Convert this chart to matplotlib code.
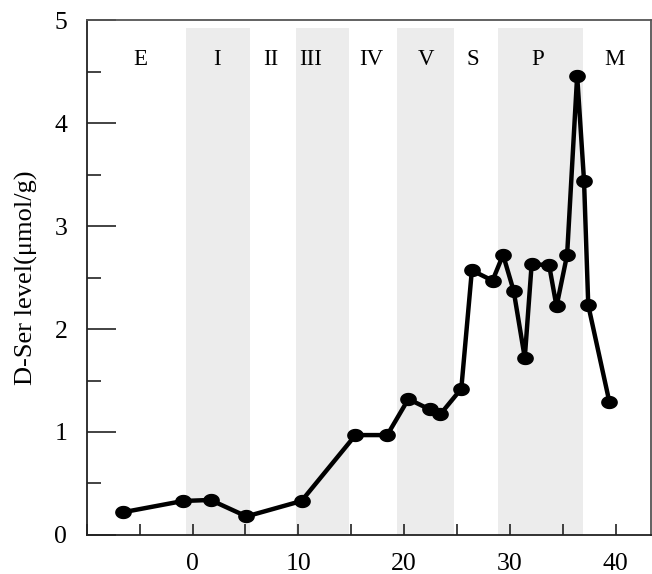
import numpy as np
import matplotlib
matplotlib.use("Agg")
import matplotlib.pyplot as plt
from matplotlib.path import Path
from matplotlib.ticker import MultipleLocator

# ---- data ----
days = [-6.6, -0.9, 1.7, 5.1, 10.3, 15.4, 18.4, 20.4, 22.4, 23.4, 25.4,
        26.4, 28.35, 29.35, 30.35, 31.4, 32.05, 33.7, 34.4, 35.4, 36.35,
        37.0, 37.4, 39.4]
dser = [0.22, 0.33, 0.34, 0.18, 0.33, 0.97, 0.97, 1.32, 1.22, 1.17, 1.42,
        2.57, 2.47, 2.72, 2.37, 1.72, 2.63, 2.62, 2.22, 2.72, 4.46,
        3.44, 2.23, 1.29]

stage_labels = ["E", "I", "II", "III", "IV", "V", "S", "P", "M"]
stage_label_x = [-4.9, 2.3, 7.4, 11.2, 16.9, 22.1, 26.5, 32.6, 39.9]
shaded_start = [-0.6, 9.8, 19.3, 28.9]
shaded_end = [5.4, 14.8, 24.7, 36.9]

x_major = [0, 10, 20, 30, 40]

plt.rcParams['font.family'] = ['Liberation Serif', 'DejaVu Serif']

fig = plt.figure(figsize=(6.52, 5.74), dpi=100)
ax = fig.add_axes([0.133, 0.068, 0.865, 0.897])

for s, e in zip(shaded_start, shaded_end):
    ax.axvspan(s, e, ymin=0, ymax=0.985, color='#ececec', lw=0, zorder=0)

t = np.linspace(0, 2 * np.pi, 60)
ell = Path(np.column_stack([np.cos(t), 0.78 * np.sin(t)]), closed=True)
ax.plot(days, dser, color='black', lw=3.2, marker=ell, markersize=11,
        markerfacecolor='black', markeredgecolor='black', zorder=3)

for lab, lx in zip(stage_labels, stage_label_x):
    ax.text(lx, 4.62, lab, ha='center', va='center', fontsize=16.5)

ax.set_xlim(-10, 43.3)
ax.set_ylim(0, 5)
ax.set_xticks(x_major)
ax.xaxis.set_minor_locator(MultipleLocator(5))
ax.yaxis.set_major_locator(MultipleLocator(1))
ax.yaxis.set_minor_locator(MultipleLocator(0.5))
ax.tick_params(axis='x', which='both', direction='in', length=8, width=1.2,
               labelsize=18.5, pad=13, color='#222222')
ax.tick_params(axis='y', which='major', direction='in', length=21, width=1.2,
               labelsize=18.5, pad=14, color='#222222')
ax.tick_params(axis='y', which='minor', direction='in', length=10, width=1.2,
               color='#222222')
for sp in ['left', 'bottom']:
    ax.spines[sp].set_color('#222222')
    ax.spines[sp].set_linewidth(1.3)
for sp in ['top', 'right']:
    ax.spines[sp].set_color('#555555')
    ax.spines[sp].set_linewidth(1.3)

ax.set_ylabel('D-Ser level(μmol/g)', fontsize=19, labelpad=12)

fig.savefig('out.png', dpi=100)
